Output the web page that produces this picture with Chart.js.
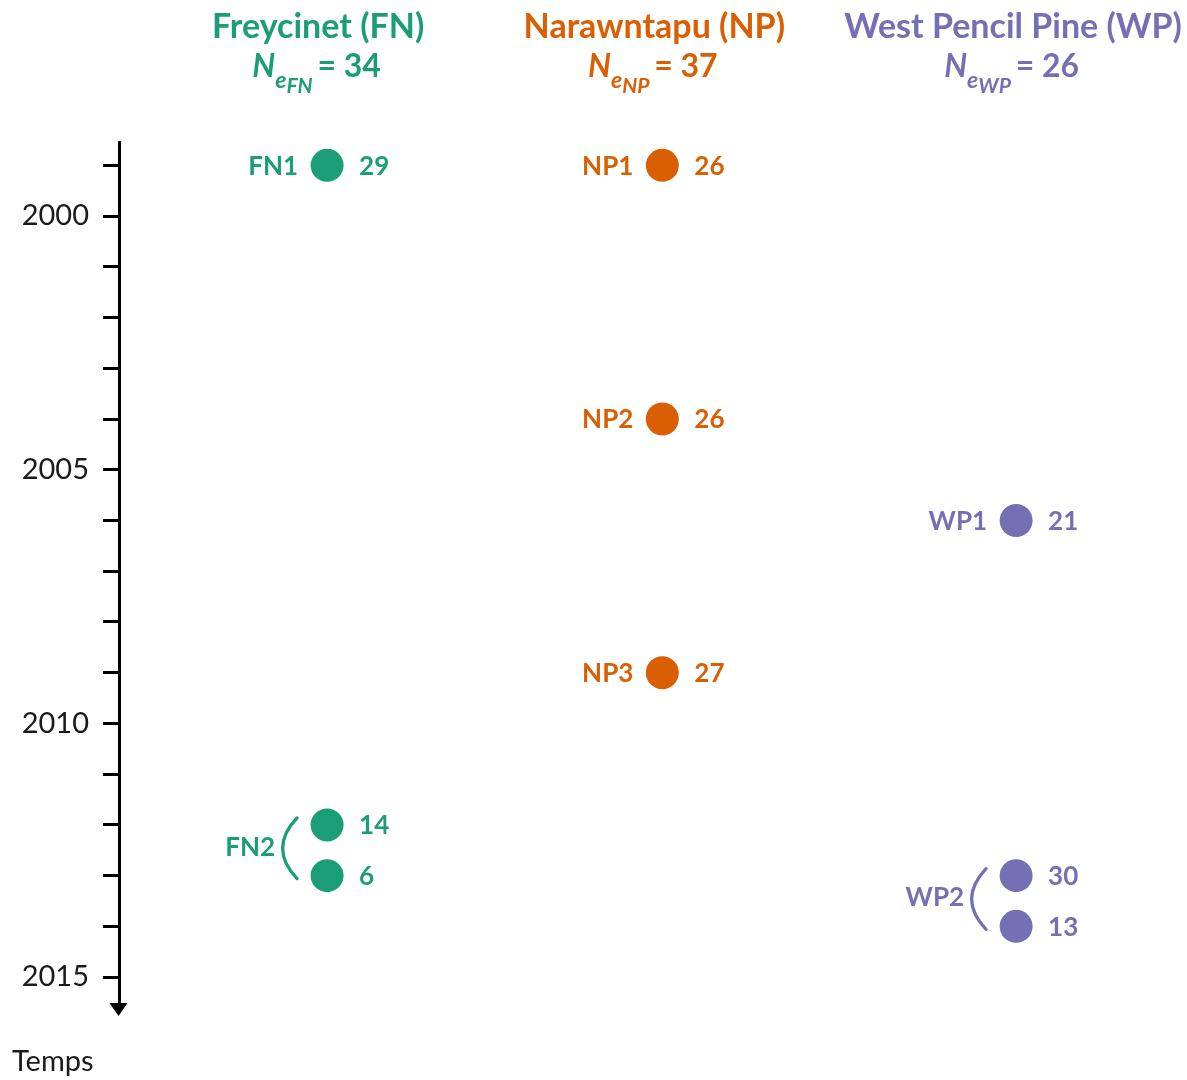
<!DOCTYPE html>
<html><head><meta charset="utf-8">
<script src="https://cdn.jsdelivr.net/npm/chart.js@4.4.1/dist/chart.umd.min.js"></script>
<style>html,body{margin:0;padding:0;background:#fff;}#wrap{width:1187px;height:1080px;}</style>
</head><body><div id="wrap"><canvas id="c" width="1187" height="1080"></canvas></div>
<script>
// ---- data ----
const siteNames = ['Freycinet (FN)', 'Narawntapu (NP)', 'West Pencil Pine (WP)'];
const siteCodes = ['FN', 'NP', 'WP'];
const neValues = [34, 37, 26];
const fnYears = [1999, 2012, 2013];
const fnValues = [29, 14, 6];
const fnSamples = ['FN1', 'FN2', 'FN2'];
const npYears = [1999, 2004, 2009];
const npValues = [26, 26, 27];
const npSamples = ['NP1', 'NP2', 'NP3'];
const wpYears = [2006, 2013, 2014];
const wpValues = [21, 30, 13];
const wpSamples = ['WP1', 'WP2', 'WP2'];
const yearLabels = [2000, 2005, 2010, 2015];
const axisTitle = 'Temps';

// ---- layout / style ----
const colors = ['#1b9e77', '#d95f02', '#7570b3'];
const colX = [1, 1.973, 3];
const headerShift = [-9, -8, -3];
const FONT = 'Lato, "Open Sans", sans-serif';

const seriesYears = [fnYears, npYears, wpYears];
const seriesValues = [fnValues, npValues, wpValues];
const seriesSamples = [fnSamples, npSamples, wpSamples];

const datasets = seriesYears.map((yrs, i) => ({
  label: siteNames[i],
  data: yrs.map(y => ({x: colX[i], y: y})),
  backgroundColor: colors[i],
  borderColor: colors[i],
  pointRadius: 16.5,
  pointHoverRadius: 16.5,
  borderWidth: 0,
  showLine: false
}));

const annot = {
  id: 'annot',
  afterDraw(chart) {
    const ctx = chart.ctx, xs = chart.scales.x, ys = chart.scales.y;
    const ca = chart.chartArea;
    ctx.save();
    // arrowhead
    const ax = ca.left - 0.5, ab = ca.bottom;
    ctx.fillStyle = '#000';
    ctx.beginPath();
    ctx.moveTo(ax - 9, ab - 2); ctx.lineTo(ax + 9, ab - 2); ctx.lineTo(ax, ab + 11);
    ctx.closePath(); ctx.fill();
    // axis title
    ctx.fillStyle = '#1a1a1a';
    ctx.font = '29px ' + FONT;
    ctx.textAlign = 'left'; ctx.textBaseline = 'middle';
    ctx.fillText(axisTitle, 12, 1062);

    for (let i = 0; i < 3; i++) {
      const col = colors[i];
      const cx = xs.getPixelForValue(colX[i]);
      const hx = cx + headerShift[i];
      ctx.fillStyle = col;
      // header title
      ctx.font = 'bold 34px ' + FONT;
      ctx.textAlign = 'center'; ctx.textBaseline = 'alphabetic';
      ctx.fillText(siteNames[i], hx, 38);
      // Ne line
      const fN = 'italic bold 32px ' + FONT;
      const fe = 'italic bold 23px ' + FONT;
      const fs = 'italic bold 21px ' + FONT;
      const fr = 'bold 32px ' + FONT;
      const rest = ' = ' + neValues[i];
      ctx.font = fN; const wN = ctx.measureText('N').width;
      ctx.font = fe; const we = ctx.measureText('e').width;
      ctx.font = fs; const ws = ctx.measureText(siteCodes[i]).width;
      ctx.font = fr; const wr = ctx.measureText(rest).width;
      let x0 = hx - (wN + we + ws + wr) / 2;
      ctx.textAlign = 'left';
      ctx.font = fN; ctx.fillText('N', x0, 77); x0 += wN;
      ctx.font = fe; ctx.fillText('e', x0, 88); x0 += we;
      ctx.font = fs; ctx.fillText(siteCodes[i], x0, 93); x0 += ws;
      ctx.font = fr; ctx.fillText(rest, x0 - 3, 77);

      // point labels
      const yrs = seriesYears[i], vals = seriesValues[i], samp = seriesSamples[i];
      ctx.font = 'bold 26px ' + FONT;
      ctx.textBaseline = 'middle';
      for (let j = 0; j < yrs.length; j++) {
        const py = ys.getPixelForValue(yrs[j]);
        ctx.textAlign = 'left';
        ctx.fillText(String(vals[j]), cx + 32, py + 1);
      }
      // sample labels (grouped)
      let j = 0;
      while (j < samp.length) {
        let k = j;
        while (k + 1 < samp.length && samp[k + 1] === samp[j]) k++;
        const y1 = ys.getPixelForValue(yrs[j]);
        const y2 = ys.getPixelForValue(yrs[k]);
        ctx.textAlign = 'right';
        if (k === j) {
          ctx.fillText(samp[j], cx - 29, y1 + 1);
        } else {
          const mid = (y1 + y2) / 2;
          ctx.strokeStyle = col; ctx.lineWidth = 3.2; ctx.lineCap = 'round';
          ctx.beginPath();
          ctx.moveTo(cx - 30, y1 - 7);
          ctx.quadraticCurveTo(cx - 59, mid - 2, cx - 30, y2 + 3);
          ctx.stroke();
          ctx.fillText(samp[j], cx - 52, mid - 3);
        }
        j = k + 1;
      }
    }
    ctx.restore();
  }
};

new Chart(document.getElementById('c'), {
  type: 'scatter',
  data: {datasets},
  options: {
    responsive: false,
    animation: false,
    events: [],
    layout: {autoPadding: false, padding: {top: 142, bottom: 75, left: 0, right: 0}},
    plugins: {legend: {display: false}, tooltip: {enabled: false}},
    scales: {
      x: {type: 'linear', display: false, min: 0.396, max: 3.496},
      y: {
        type: 'linear', reverse: true, min: 1998.54, max: 2015.55,
        afterFit(s) { s.width = 119; },
        border: {display: true, color: '#000', width: 3},
        grid: {drawOnChartArea: false, drawTicks: true, tickLength: 16, color: '#000', lineWidth: 3},
        ticks: {
          stepSize: 1, includeBounds: false, autoSkip: false, padding: 14,
          color: '#1a1a1a', font: {family: FONT, size: 29},
          callback: v => yearLabels.includes(v) ? String(v) : ''
        }
      }
    }
  },
  plugins: [annot]
});
</script></body></html>
